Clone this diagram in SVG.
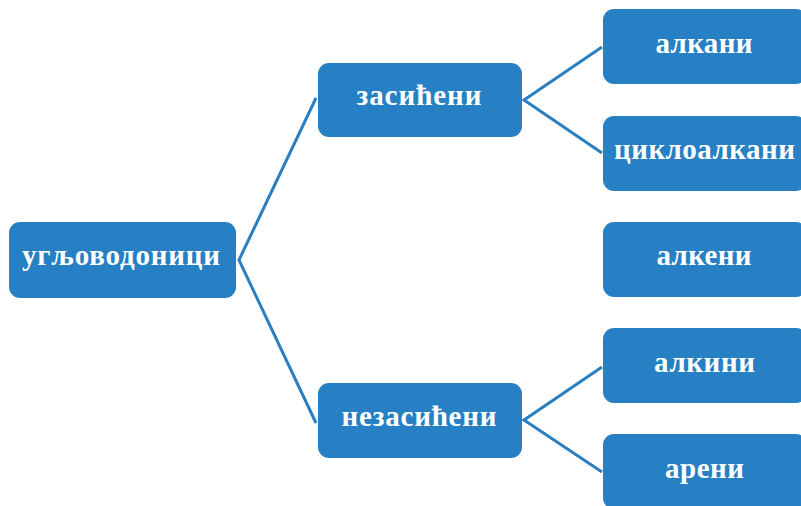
<svg xmlns="http://www.w3.org/2000/svg" width="801" height="506" viewBox="0 0 801 506">
  <style>
    .box { fill: #2680c3; }
    .lbl { font-family: "Liberation Serif", "DejaVu Serif", serif; font-weight: bold; font-size: 29px; fill: #ffffff; text-anchor: middle; }
    .link { fill: none; stroke: #2a7fc0; stroke-width: 3; stroke-linejoin: miter; }
  </style>
  <rect width="801" height="506" fill="#ffffff"/>

  <!-- connectors -->
  <g id="connectors">
    <polyline class="link" points="316,98 239,260 316,423"/>
    <polyline class="link" points="602,47 524,100 602,153"/>
    <polyline class="link" points="602,367 524,420 602,472"/>
  </g>

  <g id="root">
    <rect class="box" x="9" y="222" width="227" height="76" rx="11"/>
    <text class="lbl" x="121" y="265" textLength="198">угљоводоници</text>
  </g>

  <g id="saturated">
    <rect class="box" x="318" y="63" width="204" height="74" rx="11"/>
    <text class="lbl" x="419" y="105" textLength="125">засићени</text>
  </g>

  <g id="unsaturated">
    <rect class="box" x="318" y="383" width="204" height="75" rx="11"/>
    <text class="lbl" x="419" y="426" textLength="155">незасићени</text>
  </g>

  <g id="alkanes">
    <rect class="box" x="603" y="9" width="204" height="75" rx="11"/>
    <text class="lbl" x="704" y="53" textLength="97">алкани</text>
  </g>

  <g id="cycloalkanes">
    <rect class="box" x="603" y="116" width="204" height="75" rx="11"/>
    <text class="lbl" x="704.5" y="159" textLength="181">циклоалкани</text>
  </g>

  <g id="alkenes">
    <rect class="box" x="603" y="222" width="204" height="75" rx="11"/>
    <text class="lbl" x="704" y="265" textLength="95">алкени</text>
  </g>

  <g id="alkynes">
    <rect class="box" x="603" y="328" width="204" height="75" rx="11"/>
    <text class="lbl" x="704.5" y="372" textLength="101">алкини</text>
  </g>

  <g id="arenes">
    <rect class="box" x="603" y="434" width="204" height="75" rx="11"/>
    <text class="lbl" x="704.5" y="478" textLength="79">арени</text>
  </g>
</svg>
